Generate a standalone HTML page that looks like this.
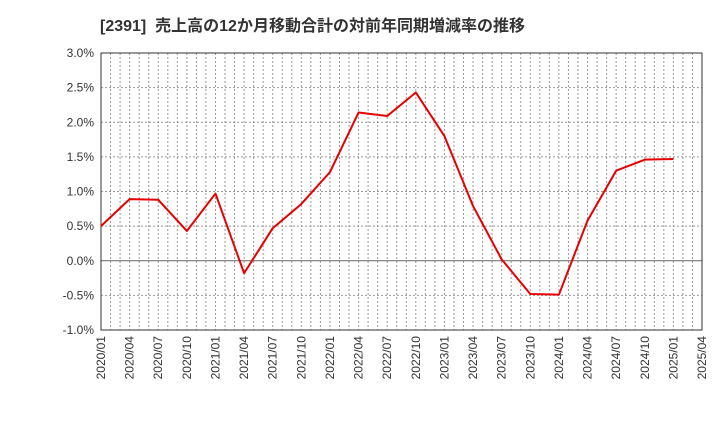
<!DOCTYPE html>
<html><head><meta charset="utf-8"><style>
body{margin:0;background:#fff;}
svg text{font-family:"Liberation Sans","Noto Sans CJK JP",sans-serif;}
</style></head><body>
<svg id="c" width="720" height="440" xmlns="http://www.w3.org/2000/svg">
<text x="100" y="31" font-size="16" font-weight="bold" fill="#333" xml:space="preserve">[2391]  売上高の12か月移動合計の対前年同期増減率の推移</text>
<g id="grid"></g><g id="axes"></g><g id="series"></g>
</svg>
<script>
const xLabels=["2020/01","2020/04","2020/07","2020/10","2021/01","2021/04","2021/07","2021/10","2022/01","2022/04","2022/07","2022/10","2023/01","2023/04","2023/07","2023/10","2024/01","2024/04","2024/07","2024/10","2025/01","2025/04"];
const yTicks=[-1.0,-0.5,0.0,0.5,1.0,1.5,2.0,2.5,3.0];
const values=[0.50,0.89,0.88,0.43,0.97,-0.18,0.47,0.82,1.28,2.14,2.09,2.43,1.80,0.79,0.02,-0.48,-0.49,0.58,1.30,1.46,1.47];
const L=101,R=702,T=53,B=330,NS="http://www.w3.org/2000/svg";
const months=(xLabels.length-1)*3;
const x=i=>L+(R-L)*i/months;
const y=v=>B-(v+1)/4*(B-T);
function mk(tag,attrs,parent){const e=document.createElementNS(NS,tag);for(const k in attrs)e.setAttribute(k,attrs[k]);document.getElementById(parent).appendChild(e);return e;}
for(let m=1;m<months;m++){
 const l=mk('line',{x1:x(m),x2:x(m),y1:T,y2:B,stroke:'#999','stroke-dasharray':'2,2','stroke-width':1},'grid');
 
 
}
yTicks.forEach(v=>{
 if(v>-1&&v<3){const l=mk('line',{x1:L,x2:R,y1:y(v),y2:y(v),stroke:v===0?'#666':'#999','stroke-dasharray':v===0?'':'2,2','stroke-width':1},'grid');
 
 }
 const t=mk('text',{x:L-7,y:y(v)+4,'text-anchor':'end','font-size':'12',fill:'#333'},'axes');
 t.textContent=v.toFixed(1)+'%';
 
 
});
const fr=mk('rect',{x:L,y:T,width:R-L,height:B-T,fill:'none',stroke:'#333','stroke-width':1},'axes');


xLabels.forEach((s,i)=>{
 const px=x(i*3);
 const t=mk('text',{x:0,y:0,transform:`translate(${px+4},${B+6}) rotate(-90)`,'text-anchor':'end','font-size':'12',fill:'#333'},'axes');
 t.textContent=s;
 
 
});
const p=mk('polyline',{points:values.map((v,i)=>x(i*3)+','+y(v)).join(' '),fill:'none',stroke:'#e60000','stroke-width':2,'stroke-linejoin':'round'},'series');


</script>
</body></html>
